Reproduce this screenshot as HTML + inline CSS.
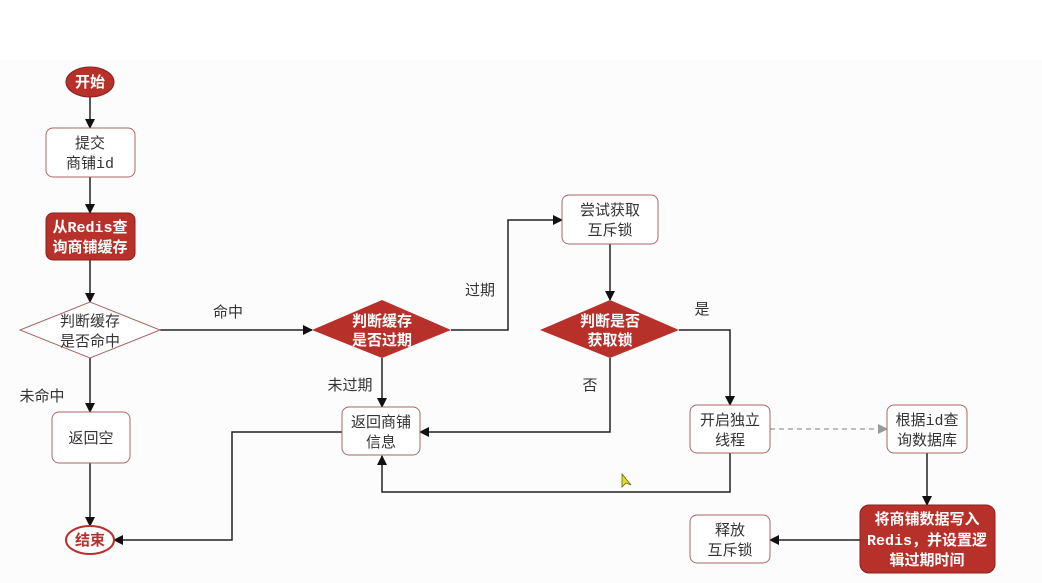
<!DOCTYPE html>
<html><head><meta charset="utf-8"><style>
html,body{margin:0;padding:0;background:#fff;}
svg{display:block;}
text{font-family:"Liberation Mono","Noto Sans CJK SC",sans-serif;font-size:15px;fill:#333;}
.w{fill:#fff;font-weight:bold;}
</style></head><body>
<svg width="1042" height="583" viewBox="0 0 1042 583">
<defs><marker id="a" markerWidth="10" markerHeight="10" refX="9" refY="5" orient="auto" markerUnits="userSpaceOnUse"><path d="M0,0 L10,5 L0,10 z" fill="#111"/></marker>
<marker id="g" markerWidth="10" markerHeight="10" refX="9" refY="5" orient="auto" markerUnits="userSpaceOnUse"><path d="M0,0 L10,5 L0,10 z" fill="#999"/></marker></defs>
<rect x="0" y="60" width="1042" height="523" fill="#fcfcfc"/>
<g stroke="#222" stroke-width="1.5" fill="none" marker-end="url(#a)">
<path d="M90,97 V128"/>
<path d="M90,177 V213"/>
<path d="M90,260 V302"/>
<path d="M160,330 H312"/>
<path d="M451,330 H508 V220 H562"/>
<path d="M610,244 V300"/>
<path d="M679,330 H730 V405"/>
<path d="M610,358 V432 H420"/>
<path d="M382,358 V407"/>
<path d="M90,358 V412"/>
<path d="M90,463 V526"/>
<path d="M342,432 H232 V540 H114"/>
<path d="M730,453 V492 H382 V456"/>
<path d="M927,453 V505"/>
<path d="M860,540 H770"/>
</g>
<path d="M770,429 H887" stroke="#999" stroke-width="1.2" stroke-dasharray="5,4" fill="none" marker-end="url(#g)"/>
<ellipse cx="90" cy="82" rx="24" ry="15" fill="#b8302a" stroke="#8a2020"/>
<text x="90" y="87" text-anchor="middle" class="w">开始</text>
<rect x="46" y="128" width="89" height="49" rx="7" fill="#fff" stroke="#a66"/>
<text x="90" y="148" text-anchor="middle">提交</text><text x="90" y="168" text-anchor="middle">商铺id</text>
<rect x="46" y="213" width="89" height="47" rx="7" fill="#b8302a" stroke="#8a2020"/>
<text x="90" y="232" text-anchor="middle" class="w">从Redis查</text><text x="90" y="252" text-anchor="middle" class="w">询商铺缓存</text>
<polygon points="20,330 90,302 160,330 90,358" fill="#fff" stroke="#a66"/>
<text x="90" y="326" text-anchor="middle">判断缓存</text><text x="90" y="346" text-anchor="middle">是否命中</text>
<rect x="52" y="412" width="78" height="51" rx="7" fill="#fff" stroke="#a66"/>
<text x="91" y="443" text-anchor="middle">返回空</text>
<ellipse cx="90" cy="540" rx="24" ry="14" fill="#fff" stroke="#b8302a" stroke-width="2"/>
<text x="90" y="545" text-anchor="middle" style="fill:#b8302a;font-weight:bold">结束</text>
<polygon points="312,330 382,300 451,330 382,358" fill="#b8302a"/>
<text x="382" y="326" text-anchor="middle" class="w">判断缓存</text><text x="382" y="345" text-anchor="middle" class="w">是否过期</text>
<rect x="342" y="407" width="78" height="48" rx="7" fill="#fff" stroke="#a66"/>
<text x="381" y="427" text-anchor="middle">返回商铺</text><text x="381" y="447" text-anchor="middle">信息</text>
<rect x="562" y="195" width="96" height="49" rx="7" fill="#fff" stroke="#a66"/>
<text x="610" y="215" text-anchor="middle">尝试获取</text><text x="610" y="235" text-anchor="middle">互斥锁</text>
<polygon points="540,330 610,300 679,330 610,358" fill="#b8302a"/>
<text x="610" y="326" text-anchor="middle" class="w">判断是否</text><text x="610" y="345" text-anchor="middle" class="w">获取锁</text>
<rect x="690" y="405" width="80" height="48" rx="7" fill="#fff" stroke="#a66"/>
<text x="730" y="425" text-anchor="middle">开启独立</text><text x="730" y="445" text-anchor="middle">线程</text>
<rect x="887" y="405" width="80" height="48" rx="7" fill="#fff" stroke="#a66"/>
<text x="927" y="425" text-anchor="middle">根据id查</text><text x="927" y="445" text-anchor="middle">询数据库</text>
<rect x="860" y="505" width="135" height="68" rx="9" fill="#b8302a" stroke="#8a2020"/>
<text x="927" y="524" text-anchor="middle" class="w">将商铺数据写入</text><text x="927" y="545" text-anchor="middle" class="w">Redis，并设置逻</text><text x="927" y="565" text-anchor="middle" class="w">辑过期时间</text>
<rect x="690" y="515" width="80" height="48" rx="7" fill="#fff" stroke="#a66"/>
<text x="730" y="535" text-anchor="middle">释放</text><text x="730" y="555" text-anchor="middle">互斥锁</text>
<text x="228" y="317" text-anchor="middle">命中</text>
<text x="480" y="295" text-anchor="middle">过期</text>
<text x="702" y="314" text-anchor="middle">是</text>
<text x="590" y="390" text-anchor="middle">否</text>
<text x="350" y="390" text-anchor="middle">未过期</text>
<text x="42" y="401" text-anchor="middle">未命中</text>
<path d="M622,474 L622,487 L626,483 L631,485 Z" fill="#dd3" stroke="#660" stroke-width="0.8"/>
</svg>
</body></html>
